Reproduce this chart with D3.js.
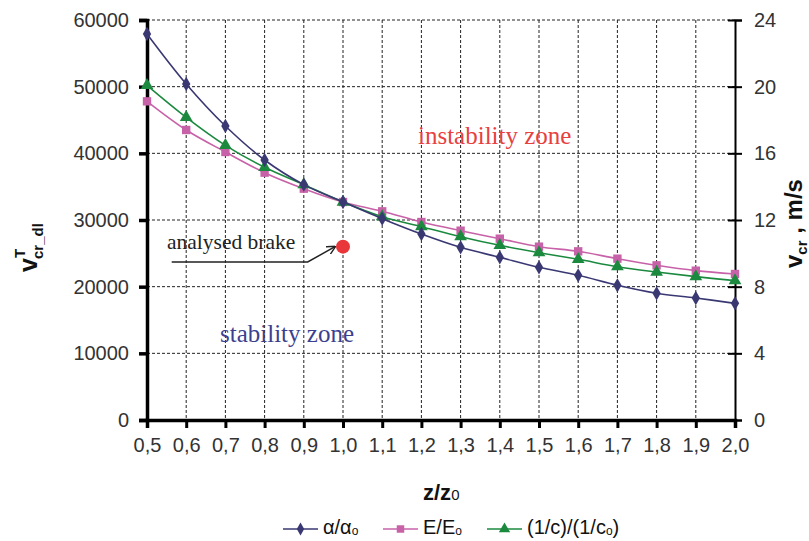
<!DOCTYPE html>
<html><head><meta charset="utf-8">
<script src="https://cdn.jsdelivr.net/npm/d3@7"></script>
<style>body{margin:0;background:#fff}svg{display:block}</style>
</head><body>
<script>
const categories = [0.5,0.6,0.7,0.8,0.9,1.0,1.1,1.2,1.3,1.4,1.5,1.6,1.7,1.8,1.9,2.0];
const alphaSeries = [57900,50400,44100,39000,35300,32700,30200,27900,25900,24400,22900,21700,20200,19000,18300,17500];
const eSeries     = [47800,43500,40200,37100,34700,32700,31300,29700,28400,27200,26000,25300,24200,23200,22400,21900];
const cSeries     = [50200,45400,41200,37900,35300,32700,30500,29000,27500,26200,25100,24100,23000,22200,21500,20900];
const leftTicks = [0,10000,20000,30000,40000,50000,60000];
const rightTicks = [0,4,8,12,16,20,24];
const brakePoint = {x:1.0, y:26000};
const xTickLabels = categories.map(d => d.toFixed(1).replace('.', ','));

const W=809,H=541;
const svg=d3.select('body').append('svg').attr('width',W).attr('height',H);
const x=d3.scaleLinear().domain([0.5,2.0]).range([147,735]);
const y=d3.scaleLinear().domain([0,60000]).range([420,20]);
const yR=d3.scaleLinear().domain([0,24]).range([420,20]);

// grid
const g=svg.append('g');
g.selectAll('.hg').data(leftTicks.filter(d=>d>0)).join('line')
  .attr('x1',147).attr('x2',735).attr('y1',d=>y(d)).attr('y2',d=>y(d))
  .attr('stroke','#222').attr('stroke-width',1).attr('stroke-dasharray','3,2');
g.selectAll('.vg').data(categories.slice(1,-1)).join('line')
  .attr('y1',20).attr('y2',420).attr('x1',d=>x(d)).attr('x2',d=>x(d))
  .attr('stroke','#222').attr('stroke-width',1).attr('stroke-dasharray','3,2');

const font="'Liberation Sans', Arial, sans-serif";
const serif="'Liberation Serif', 'Times New Roman', serif";

// axes
const yAxis=d3.axisLeft(y).tickValues(leftTicks).tickSize(8).tickPadding(10).tickFormat(d=>d);
const ya=svg.append('g').attr('transform','translate(147,0)').call(yAxis);
ya.select('.domain').attr('stroke','#000').attr('stroke-width',3.5);
ya.selectAll('.tick line').attr('stroke','#000').attr('stroke-width',3.5);
ya.selectAll('text').attr('font-family',font).attr('font-size',20).attr('fill','#333');

const xAxis=d3.axisBottom(x).tickValues(categories).tickSize(8).tickPadding(10).tickFormat((d,i)=>xTickLabels[i]);
const xa=svg.append('g').attr('transform','translate(0,420)').call(xAxis);
xa.select('.domain').attr('stroke','#000').attr('stroke-width',3.5);
xa.selectAll('.tick line').attr('stroke','#000').attr('stroke-width',3);
xa.selectAll('text').attr('font-family',font).attr('font-size',20).attr('fill','#333');

const yAxisR=d3.axisRight(yR).tickValues(rightTicks).tickSize(7).tickPadding(12);
const yra=svg.append('g').attr('transform','translate(735,0)').call(yAxisR);
yra.select('.domain').attr('stroke','#000').attr('stroke-width',2);
yra.selectAll('.tick line').attr('stroke','#000').attr('stroke-width',2).attr('x1',-7);
yra.selectAll('text').attr('font-family',font).attr('font-size',20).attr('fill','#333');

// series
const series=[
  {name:'alpha',vals:alphaSeries,color:'#3a3873',shape:d3.symbolDiamond,size:60},
  {name:'E',vals:eSeries,color:'#c862a8',shape:d3.symbolSquare,size:70},
  {name:'c',vals:cSeries,color:'#1b8a3f',shape:d3.symbolTriangle,size:70}
];
const line=d3.line().x((d,i)=>x(categories[i])).y(d=>y(d)).curve(d3.curveCatmullRom);
[series[1],series[2],series[0]].forEach(s=>{
  svg.append('path').attr('d',line(s.vals)).attr('fill','none').attr('stroke',s.color).attr('stroke-width',1.6);
  svg.selectAll(null).data(s.vals).join('path')
    .attr('d',d3.symbol().type(s.shape).size(s.size))
    .attr('transform',(d,i)=>`translate(${x(categories[i])},${y(d)})`)
    .attr('fill',s.color);
});

// analysed brake
svg.append('circle').attr('cx',x(brakePoint.x)).attr('cy',y(brakePoint.y)).attr('r',7).attr('fill','#e8363a');
svg.append('defs').append('marker').attr('id','ah').attr('viewBox','0 0 10 10').attr('refX',9).attr('refY',5)
  .attr('markerWidth',9).attr('markerHeight',9).attr('orient','auto').attr('markerUnits','userSpaceOnUse')
  .append('path').attr('d','M0,0 L10,5 L0,10').attr('fill','none').attr('stroke','#222').attr('stroke-width',1.5);
svg.append('path')
  .attr('d',`M${x(0.563)},${y(23700)} L${x(0.91)},${y(23700)} L${x(1.0)-8},${y(brakePoint.y)}`)
  .attr('fill','none').attr('stroke','#222').attr('stroke-width',1.5).attr('marker-end','url(#ah)');
svg.append('text').attr('x',167).attr('y',249).attr('font-family',serif).attr('font-size',21.5).attr('fill','#222').text('analysed brake');

svg.append('text').attr('x',418).attr('y',144).attr('font-family',serif).attr('font-size',25).attr('fill','#e8403e').text('instability zone');
svg.append('text').attr('x',220).attr('y',342).attr('font-family',serif).attr('font-size',25).attr('fill','#3c3f8f').text('stability zone');

// axis titles
const xt=svg.append('text').attr('x',423).attr('y',500).attr('font-family',font).attr('font-size',22).attr('font-weight','bold').attr('fill','#111');
xt.append('tspan').text('z/z');
xt.append('tspan').attr('font-size',15).attr('font-weight','normal').text('0');

const lt=svg.append('text').attr('transform','translate(37,272) rotate(-90)').attr('font-family',font).attr('font-weight','bold').attr('fill','#111').attr('font-size',25);
lt.append('tspan').text('v');
lt.append('tspan').attr('font-size',15).attr('dy',-12).text('T');
lt.append('tspan').attr('font-size',15).attr('dx',-9).attr('dy',18).text('cr_dl');

const rt=svg.append('text').attr('transform','translate(802,268) rotate(-90)').attr('font-family',font).attr('font-weight','bold').attr('fill','#111').attr('font-size',24);
rt.append('tspan').text('v');
rt.append('tspan').attr('font-size',15).attr('dy',5).text('cr');
rt.append('tspan').attr('dy',-5).text(' , m/s');

// legend
const legend=[{s:series[0],x0:283,label:['α/α','o']},{s:series[1],x0:383,label:['E/E','o']},{s:series[2],x0:487,label:['(1/c)/(1/c','o',')']}];
legend.forEach(l=>{
  const ly=529;
  svg.append('line').attr('x1',l.x0).attr('x2',l.x0+35).attr('y1',ly).attr('y2',ly).attr('stroke',l.s.color).attr('stroke-width',1.6);
  svg.append('path').attr('d',d3.symbol().type(l.s.shape).size(l.s.size*0.8)).attr('transform',`translate(${l.x0+17.5},${ly})`).attr('fill',l.s.color);
  const t=svg.append('text').attr('x',l.x0+40).attr('y',534).attr('font-family',font).attr('font-size',20).attr('fill','#111');
  t.append('tspan').text(l.label[0]);
  t.append('tspan').attr('font-size',12).attr('dy',1).text(l.label[1]);
  if(l.label[2]) t.append('tspan').attr('dy',-1).text(l.label[2]);
});
</script>
</body></html>
